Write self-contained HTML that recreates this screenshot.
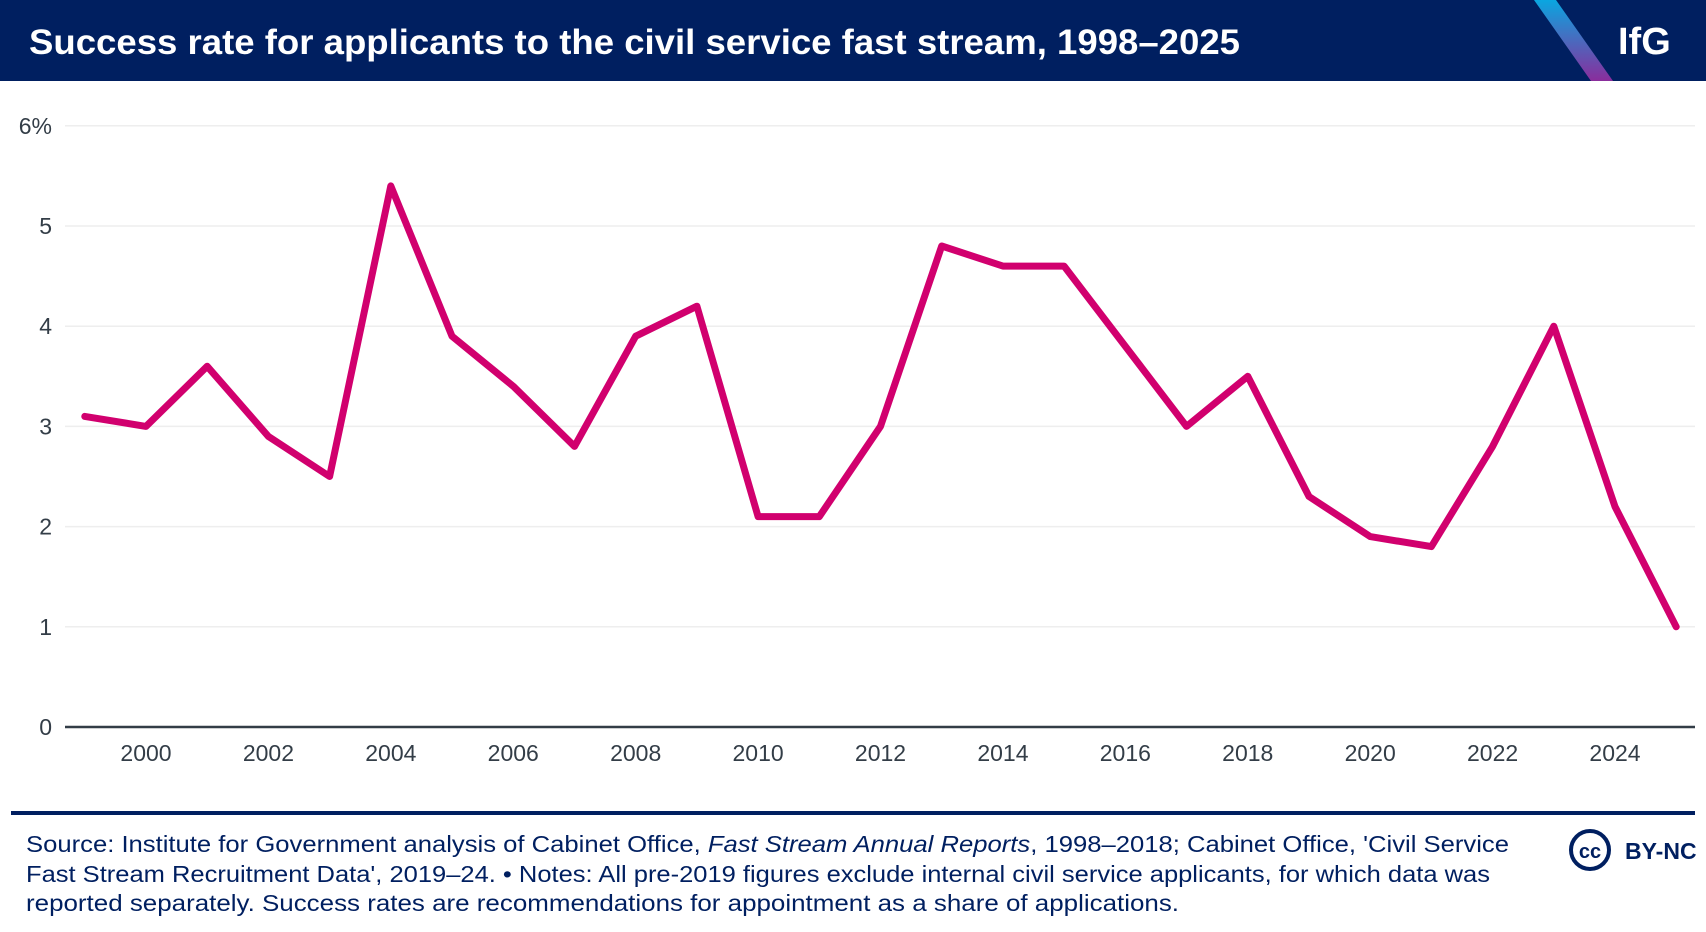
<!DOCTYPE html>
<html><head><meta charset="utf-8"><style>
html,body{margin:0;padding:0;background:#fff;}
svg{display:block;font-family:"Liberation Sans",sans-serif;}
</style></head><body>
<svg width="1706" height="932" viewBox="0 0 1706 932">
<defs><linearGradient id="g" x1="0" y1="0" x2="0" y2="1"><stop offset="0" stop-color="#0aa6e0"/><stop offset="1" stop-color="#8a2d9c"/></linearGradient></defs>
<rect x="0" y="0" width="1706" height="81" fill="#001f60"/>
<text x="29" y="54" fill="#fff" font-size="35" font-weight="bold" textLength="1211" lengthAdjust="spacingAndGlyphs">Success rate for applicants to the civil service fast stream, 1998–2025</text>
<polygon points="1534,0 1556,0 1613,81 1591,81" fill="url(#g)"/>
<text x="1618" y="54" fill="#fff" font-size="38" font-weight="bold">IfG</text>
<g id="grid"></g>
<g id="yt"></g>
<g id="xt"></g>
<path id="line" fill="none" stroke="#d1006e" stroke-width="7" stroke-linejoin="round" stroke-linecap="round"/>
<rect x="11" y="811" width="1684" height="4" fill="#001f60"/>
<g fill="#001f60" font-size="23">
<text x="26" y="852" textLength="1483" lengthAdjust="spacingAndGlyphs">Source: Institute for Government analysis of Cabinet Office, <tspan font-style="italic">Fast Stream Annual Reports</tspan>, 1998–2018; Cabinet Office, 'Civil Service</text>
<text x="26" y="882" textLength="1464" lengthAdjust="spacingAndGlyphs">Fast Stream Recruitment Data', 2019–24. • Notes: All pre-2019 figures exclude internal civil service applicants, for which data was</text>
<text x="26" y="911" textLength="1153" lengthAdjust="spacingAndGlyphs">reported separately. Success rates are recommendations for appointment as a share of applications.</text>
</g>
<g>
<circle cx="1590" cy="850" r="19" fill="none" stroke="#001f60" stroke-width="4"/>
<text x="1590" y="858" text-anchor="middle" font-size="20" font-weight="bold" fill="#001f60">cc</text>
<text x="1625" y="859" font-size="23" font-weight="bold" fill="#001f60">BY-NC</text>
</g>
</svg>
<script>
const years=[1999,2000,2001,2002,2003,2004,2005,2006,2007,2008,2009,2010,2011,2012,2013,2014,2015,2016,2017,2018,2019,2020,2021,2022,2023,2024,2025];
const rates=[3.1,3.0,3.6,2.9,2.5,5.4,3.9,3.4,2.8,3.9,4.2,2.1,2.1,3.0,4.8,4.6,4.6,3.8,3.0,3.5,2.3,1.9,1.8,2.8,4.0,2.2,1.0];
const yTicks=[0,1,2,3,4,5,6];
const yTickLabels=["0","1","2","3","4","5","6%"];
const xTicks=[2000,2002,2004,2006,2008,2010,2012,2014,2016,2018,2020,2022,2024];
const NS="http://www.w3.org/2000/svg";
const xS=v=>146+(v-2000)*(1615-146)/24;
const yS=v=>727-v*100.2;
const grid=document.getElementById('grid'),yt=document.getElementById('yt'),xt=document.getElementById('xt');
yTicks.forEach((t,i)=>{
  const l=document.createElementNS(NS,'line');
  l.setAttribute('x1',65);l.setAttribute('x2',1695);
  l.setAttribute('y1',yS(t));l.setAttribute('y2',yS(t));
  l.setAttribute('stroke',t===0?'#333d47':'#eeeeee');l.setAttribute('stroke-width',t===0?2.5:1.5);
  
  
  grid.appendChild(l);
  const tx=document.createElementNS(NS,'text');
  tx.setAttribute('x',52);tx.setAttribute('y',yS(t)+8);tx.setAttribute('text-anchor','end');
  tx.setAttribute('font-size','23');tx.setAttribute('fill','#333d47');
  tx.textContent=yTickLabels[i];
  
  
  yt.appendChild(tx);
});
xTicks.forEach(t=>{
  const tx=document.createElementNS(NS,'text');
  tx.setAttribute('x',xS(t));tx.setAttribute('y',761);tx.setAttribute('text-anchor','middle');
  tx.setAttribute('font-size','23');tx.setAttribute('fill','#333d47');
  tx.textContent=t;
  
  
  xt.appendChild(tx);
});
document.getElementById('line').setAttribute('d',years.map((y,i)=>(i?'L':'M')+xS(y).toFixed(1)+','+yS(rates[i]).toFixed(1)).join(''));
</script>
</body></html>
